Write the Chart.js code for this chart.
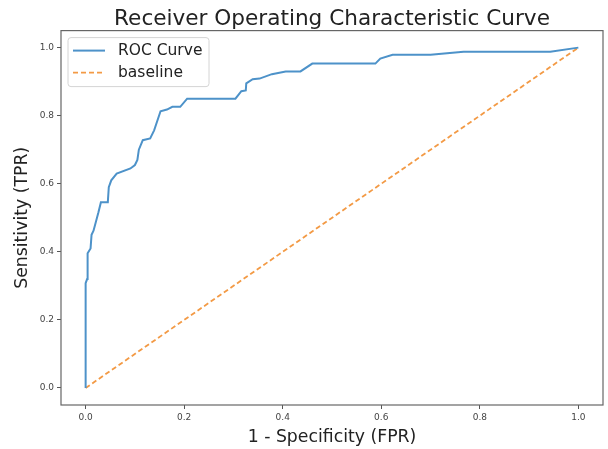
<!DOCTYPE html>
<html>
<head>
<meta charset="utf-8">
<script src="https://cdn.jsdelivr.net/npm/chart.js@4/dist/chart.umd.min.js"></script>
<style>
  html, body { margin: 0; padding: 0; background: #fff; }
</style>
</head>
<body>
<canvas id="roc" width="608" height="449"></canvas>
<script>
// values
const fpr = [0, 0, 0.003, 0.004, 0.01, 0.012, 0.016, 0.026, 0.031, 0.045, 0.047, 0.052,
  0.063, 0.091, 0.1, 0.105, 0.108, 0.116, 0.131, 0.139, 0.152, 0.165, 0.176, 0.192,
  0.206, 0.304, 0.316, 0.325, 0.326, 0.339, 0.353, 0.378, 0.406, 0.436, 0.46, 0.588,
  0.598, 0.623, 0.70, 0.767, 0.943, 1.0];
const tpr = [0, 0.308, 0.32, 0.396, 0.41, 0.45, 0.462, 0.516, 0.546, 0.546, 0.59, 0.61,
  0.63, 0.645, 0.655, 0.67, 0.70, 0.728, 0.733, 0.757, 0.813, 0.818, 0.826, 0.826,
  0.85, 0.85, 0.872, 0.874, 0.895, 0.907, 0.909, 0.922, 0.93, 0.93, 0.953, 0.953,
  0.968, 0.979, 0.979, 0.988, 0.988, 1.0];
const baseX = [0, 1];
const baseY = [0, 1];
const seriesNames = ['ROC Curve', 'baseline'];
const tickValues = [0, 0.2, 0.4, 0.6, 0.8, 1.0];

const font = 'DejaVu Sans';

// box round the plot, like matplotlib
const frame = {
  id: 'frame',
  afterDraw(chart) {
    const a = chart.chartArea, ctx = chart.ctx;
    ctx.save();
    ctx.strokeStyle = '#666';
    ctx.lineWidth = 1.2;
    ctx.strokeRect(a.left, a.top, a.right - a.left, a.bottom - a.top);
    ctx.restore();
  }
};

// legend in the upper left corner of the plot
const innerLegend = {
  id: 'innerLegend',
  afterDraw(chart) {
    const a = chart.chartArea, ctx = chart.ctx;
    const x = a.left + 7, y = a.top + 7, w = 141, h = 49, r = 3;
    ctx.save();
    ctx.beginPath();
    ctx.roundRect(x, y, w, h, r);
    ctx.fillStyle = 'rgba(255,255,255,0.85)';
    ctx.fill();
    ctx.strokeStyle = '#d4d4d4';
    ctx.lineWidth = 1;
    ctx.stroke();
    chart.data.datasets.forEach((ds, i) => {
      const cy = y + 13 + i * 22;
      ctx.beginPath();
      ctx.setLineDash(ds.borderDash || []);
      ctx.strokeStyle = ds.borderColor;
      ctx.lineWidth = ds.borderWidth;
      ctx.moveTo(x + 5, cy);
      ctx.lineTo(x + 37, cy);
      ctx.stroke();
      ctx.setLineDash([]);
      ctx.fillStyle = '#222';
      ctx.font = '15.5px "' + font + '"';
      ctx.textBaseline = 'middle';
      ctx.fillText(ds.label, x + 50, cy);
    });
    ctx.restore();
  }
};

new Chart(document.getElementById('roc'), {
  type: 'scatter',
  data: {
    datasets: [
      {
        label: seriesNames[0],
        data: fpr.map((v, i) => ({ x: v, y: tpr[i] })),
        showLine: true,
        borderColor: '#4d92c9',
        borderWidth: 2,
        pointRadius: 0,
        tension: 0
      },
      {
        label: seriesNames[1],
        data: baseX.map((v, i) => ({ x: v, y: baseY[i] })),
        showLine: true,
        borderColor: '#f39a45',
        borderWidth: 1.8,
        borderDash: [5, 3],
        pointRadius: 0
      }
    ]
  },
  options: {
    responsive: false,
    animation: false,
    devicePixelRatio: 1,
    layout: { padding: { left: 0, right: 5, top: 0, bottom: 0 } },
    plugins: {
      legend: { display: false },
      tooltip: { enabled: false },
      title: {
        display: true,
        fullSize: false,
        text: 'Receiver Operating Characteristic Curve',
        color: '#222',
        font: { family: font, size: 21.6, weight: 'normal', lineHeight: 1 },
        padding: { top: 9, bottom: 0 }
      }
    },
    scales: {
      x: {
        type: 'linear',
        min: -0.05,
        max: 1.05,
        afterFit: s => { s.height = 44; },
        afterBuildTicks: s => { s.ticks = tickValues.map(v => ({ value: v })); },
        ticks: {
          includeBounds: false,
          padding: 3,
          color: '#444',
          font: { family: font, size: 9 },
          maxRotation: 0,
          callback: v => v.toFixed(1)
        },
        grid: { drawOnChartArea: false, drawTicks: true, tickLength: 4, color: '#555' },
        border: { display: false },
        title: {
          display: true,
          text: '1 - Specificity (FPR)',
          color: '#222',
          font: { family: font, size: 17.3, lineHeight: 1 },
          padding: { top: 3, bottom: 3 }
        }
      },
      y: {
        type: 'linear',
        min: -0.05,
        max: 1.05,
        afterFit: s => { s.width = 61; },
        afterBuildTicks: s => { s.ticks = tickValues.map(v => ({ value: v })); },
        ticks: {
          includeBounds: false,
          padding: 3,
          color: '#444',
          font: { family: font, size: 9 },
          callback: v => v.toFixed(1)
        },
        grid: { drawOnChartArea: false, drawTicks: true, tickLength: 4, color: '#555' },
        border: { display: false },
        title: {
          display: true,
          text: 'Sensitivity (TPR)',
          color: '#222',
          font: { family: font, size: 17.3, lineHeight: 1 },
          padding: { top: 14, bottom: 14 }
        }
      }
    }
  },
  plugins: [frame, innerLegend]
});
</script>
</body>
</html>
